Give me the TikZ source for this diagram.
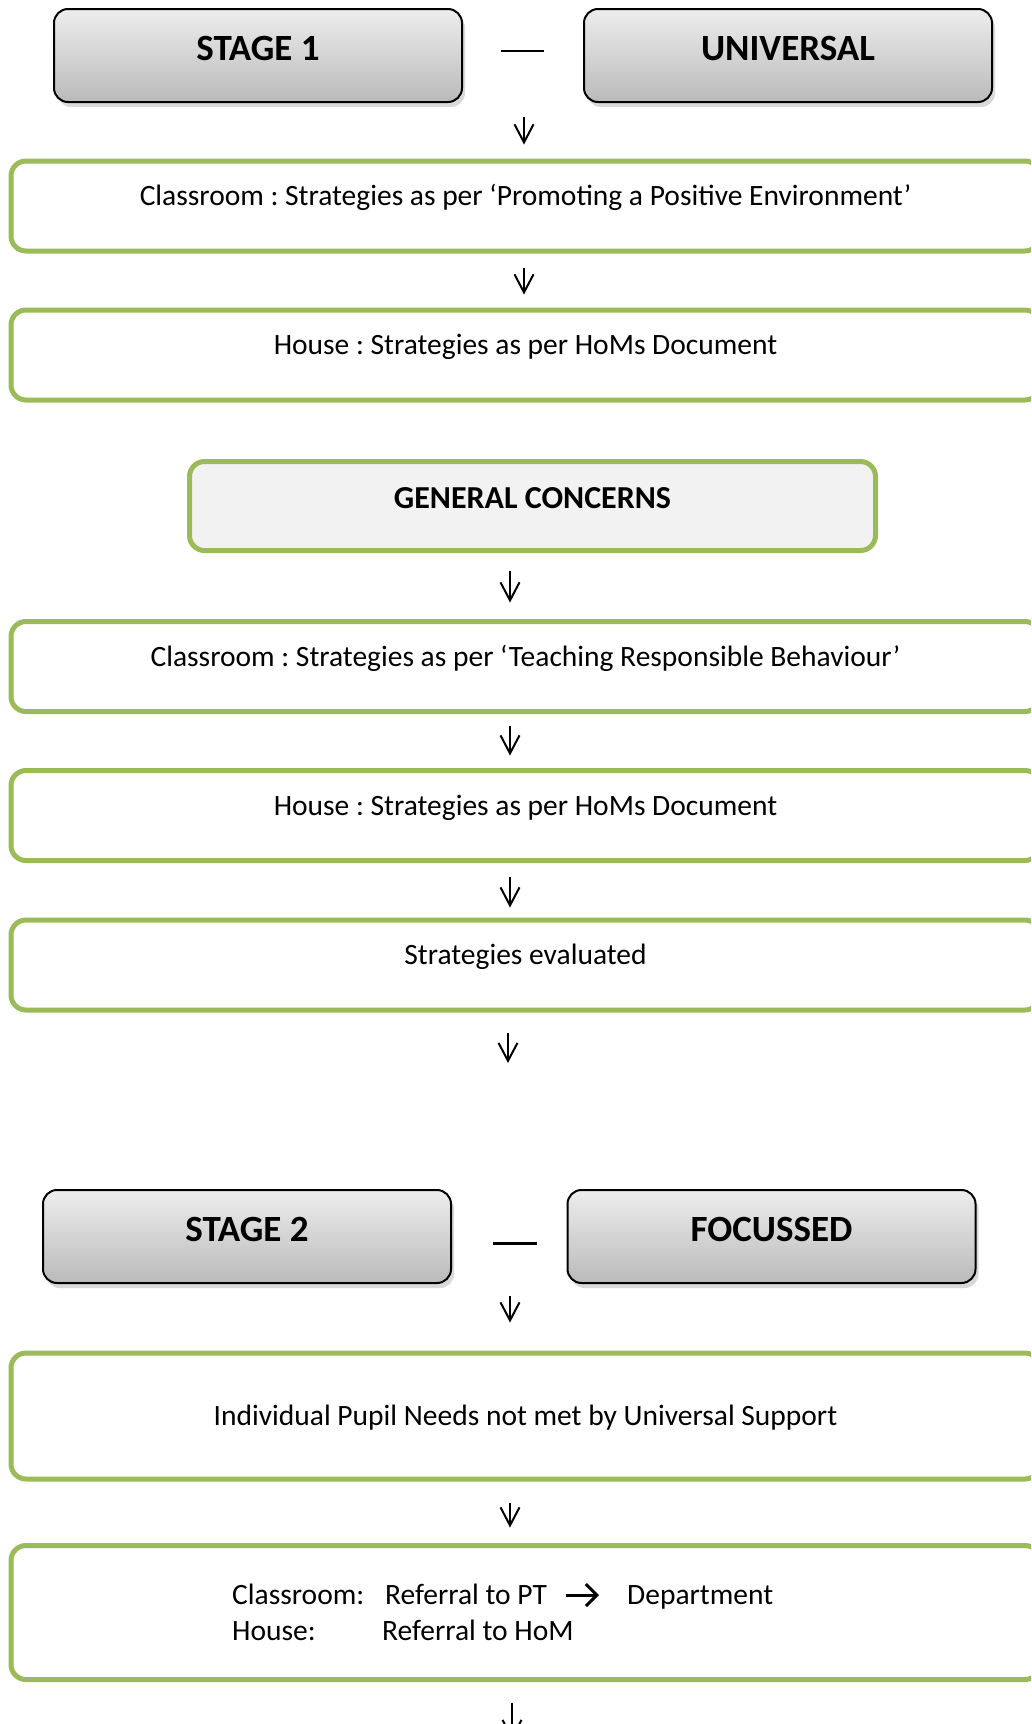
\documentclass[tikz,border=0pt]{standalone}
\usepackage{fontspec}
\setmainfont{Carlito}
\usetikzlibrary{arrows.meta,shadows}
\definecolor{boxgreen}{HTML}{9BBB59}
\frenchspacing

\tikzset{
    stagebox/.style={draw, line width=2pt, rounded corners=14pt, minimum width=408pt, minimum height=93pt,
        top color=black!7, bottom color=black!27, drop shadow={shadow xshift=3pt, shadow yshift=-5pt, opacity=.3},
        inner sep=0pt, text height=24pt, text depth=15pt, font=\fontsize{37}{44}\selectfont\bfseries},
    greenbox/.style={draw=boxgreen, line width=5pt, rounded corners=15pt, fill=white, minimum width=1029pt,
        inner sep=0pt, font=\fontsize{29.5}{35}\selectfont},
    topbox/.style={greenbox, minimum height=90pt, text height=19pt, text depth=20pt},
    headbox/.style={draw=boxgreen, line width=5pt, rounded corners=15pt, fill=black!5, minimum width=686pt,
        minimum height=89pt, inner sep=0pt, text height=21pt, text depth=16pt, font=\fontsize{32}{38}\selectfont\bfseries},
    linetext/.style={anchor=west, inner sep=0pt, text height=19pt, text depth=0pt, font=\fontsize{29.5}{35}\selectfont},
    flow/.style={line width=2pt, -{Straight Barb[length=18pt, width=19pt]}},
    sidearrow/.style={line width=3pt, -{Straight Barb[length=11pt, width=22pt]}},
    joinline/.style={line width=2pt}
}

\begin{document}
\begin{tikzpicture}[x=1pt,y=-1pt]
\useasboundingbox (0,0) rectangle (1031,1724);
\clip (0,0) rectangle (1031,1724);

%stage 1
\node[stagebox] (stageone) at (258,55.5) {STAGE 1};
\node[stagebox] (universal) at (788,55.5) {UNIVERSAL};
\draw[joinline] ([xshift=38pt,yshift=4.5pt]stageone.east) -- ([xshift=-39pt,yshift=4.5pt]universal.west);

\foreach \n/\y/\txt in {box1/206/{Classroom : Strategies as per ‘Promoting a Positive Environment’},
    box2/355/{House : Strategies as per HoMs Document},
    box3/666.5/{Classroom : Strategies as per ‘Teaching Responsible Behaviour’},
    box4/815.5/{House : Strategies as per HoMs Document},
    box5/965/{Strategies evaluated}}{
    \node[topbox] (\n) at (525.5,\y) {\txt};
}
\node[headbox] (concerns) at (532.5,506) {GENERAL CONCERNS};

%stage 2
\node[stagebox] (stagetwo) at (247,1236.5) {STAGE 2};
\node[stagebox] (focussed) at (771.5,1236.5) {FOCUSSED};
\draw[joinline, line width=3pt] ([xshift=41pt,yshift=-6.5pt]stagetwo.east) -- ([xshift=-29.5pt,yshift=-6.5pt]focussed.west);

\node[greenbox, minimum height=126pt, text height=19pt, text depth=0pt] (box6) at (525.5,1416)
    {Individual Pupil Needs not met by Universal Support};
\node[greenbox, minimum height=134pt] (box7) at (525.5,1612.5) {};
\node[linetext] (classroom) at (232,1595) {Classroom:};
\node[linetext] (refpt) at (385,1595) {Referral to PT};
\node[linetext] (department) at (627,1595) {Department};
\node[linetext] (house) at (232,1631) {House:};
\node[linetext] (refhom) at (382,1631) {Referral to HoM};
\draw[sidearrow, shorten <=19pt, shorten >=28pt] (refpt.east) -- (department.west);

%arrows
\coordinate (colA) at (524,0);
\coordinate (colB) at (510,0);
\coordinate (colC) at (508,0);
\coordinate (pageend) at (512,1740);
\foreach \c/\a/\b/\s/\e in {colA/stageone/box1/14/14, colA/box1/box2/14/13, colB/concerns/box3/17.5/16.5,
    colB/box3/box4/11.5/12.5, colB/box4/box5/13.5/10, colC/box5/stagetwo/20/126,
    colB/stagetwo/box6/12/28, colB/box6/box7/21/15.5}{
    \draw[flow, shorten <=\s pt, shorten >=\e pt] (\c |- \a.south) -- (\c |- \b.north);
}
\draw[flow, shorten <=20.5pt] (pageend |- box7.south) -- (pageend);

\end{tikzpicture}
\end{document}
